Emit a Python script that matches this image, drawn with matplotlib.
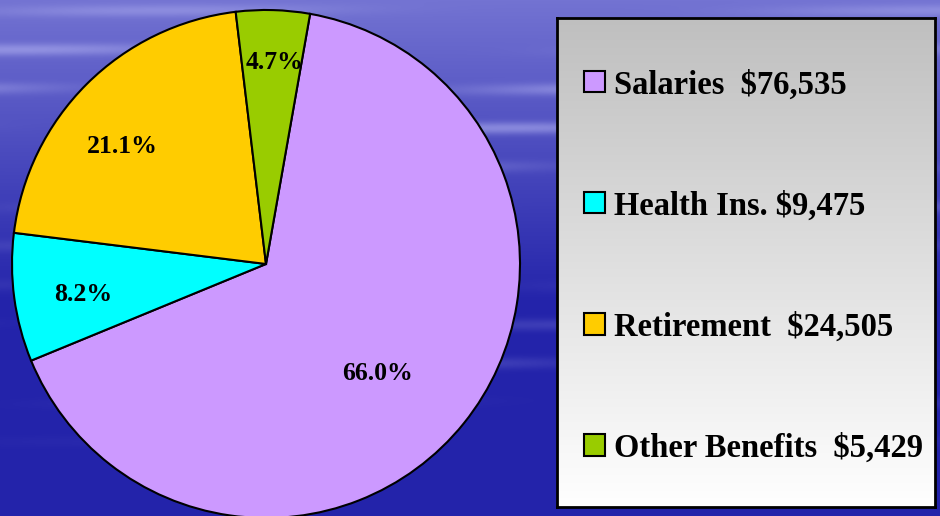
import numpy as np
import matplotlib
matplotlib.use('Agg')
import matplotlib.pyplot as plt
from matplotlib.patches import Patch

# data
categories = ['Salaries', 'Health Ins.', 'Retirement', 'Other Benefits']
amounts = [76535, 9475, 24505, 5429]
label_gaps = ['  ', ' ', '  ', '  ']
colors = ['#CC99FF', '#00FFFF', '#FFCC00', '#99CC00']

plt.rcParams['font.family'] = ['Liberation Serif', 'DejaVu Serif']
plt.rcParams['font.weight'] = 'bold'

fig = plt.figure(figsize=(9.4, 5.16), dpi=100)

# background: blue gradient with soft streaks
bg = fig.add_axes([0, 0, 1, 1])
h, w = 516, 940
yy, xx = np.mgrid[0:h, 0:w]
t = np.clip(yy / h * 1.7, 0, 1)
base_r = 115 - 80 * t
base_g = 115 - 80 * t
base_b = 210 - 40 * t
streak = (np.sin(yy * 0.16) * 0.5 + 0.5) ** 4 * (np.sin(xx * 0.008 + yy * 0.03) * 0.5 + 0.5) ** 2
streak = streak * (np.exp(-((yy - 110) / 120.0) ** 2) + 0.6 * np.exp(-((yy - 360) / 60.0) ** 2)) * 55
img = np.stack([base_r + streak, base_g + streak, base_b + streak * 0.5], axis=-1)
img = np.clip(img, 0, 255) / 255.0
bg.imshow(img, aspect='auto', extent=[0, 1, 0, 1])
bg.axis('off')

# pie
ax = fig.add_axes([12 / 940, -2 / 516, 508 / 940, 508 / 516])
wedges, texts, autotexts = ax.pie(amounts, colors=colors, startangle=80, counterclock=False,
                                  autopct='%1.1f%%', radius=1,
                                  wedgeprops=dict(edgecolor='black', linewidth=1.5),
                                  textprops=dict(fontsize=18.5, fontweight='bold', color='black'))
ax.set_xlim(-1, 1)
ax.set_ylim(-1, 1)
ax.set_aspect('equal')
ax.axis('off')

# label placement (excel "best fit"-like)
dists = [0.615, 0.73, 0.73, 0.795]
shifts = [-5.7, 1.7, 5.7, -0.8]
for wdg, txt, d, s in zip(wedges, autotexts, dists, shifts):
    ang = np.deg2rad((wdg.theta1 + wdg.theta2) / 2 + s)
    txt.set_position((d * np.cos(ang), d * np.sin(ang)))
    txt.set_ha('center')
    txt.set_va('center')

# legend box with gray gradient
lb = fig.add_axes([557 / 940, 9 / 516, 378 / 940, 489 / 516])
grad = np.linspace(0.75, 1.0, 256).reshape(-1, 1)
lb.imshow(np.dstack([grad, grad, grad]), aspect='auto', extent=[0, 1, 0, 1], origin='upper')
lb.set_xlim(0, 1)
lb.set_ylim(0, 1)
lb.set_xticks([])
lb.set_yticks([])
for sp in lb.spines.values():
    sp.set_linewidth(2)
    sp.set_color('black')

labels = [f'{c}{g}${a:,}' for c, g, a in zip(categories, label_gaps, amounts)]
handles = [Patch(facecolor=c, edgecolor='black', linewidth=1.5) for c in colors]
lb.legend(handles, labels, loc='center left', bbox_to_anchor=(0.029, 0.492),
          frameon=False, borderpad=0, labelspacing=2.76,
          handlelength=0.62, handleheight=0.62, handletextpad=0.3,
          prop=dict(size=23.5, weight='bold'))

plt.savefig('out.png', dpi=100)
